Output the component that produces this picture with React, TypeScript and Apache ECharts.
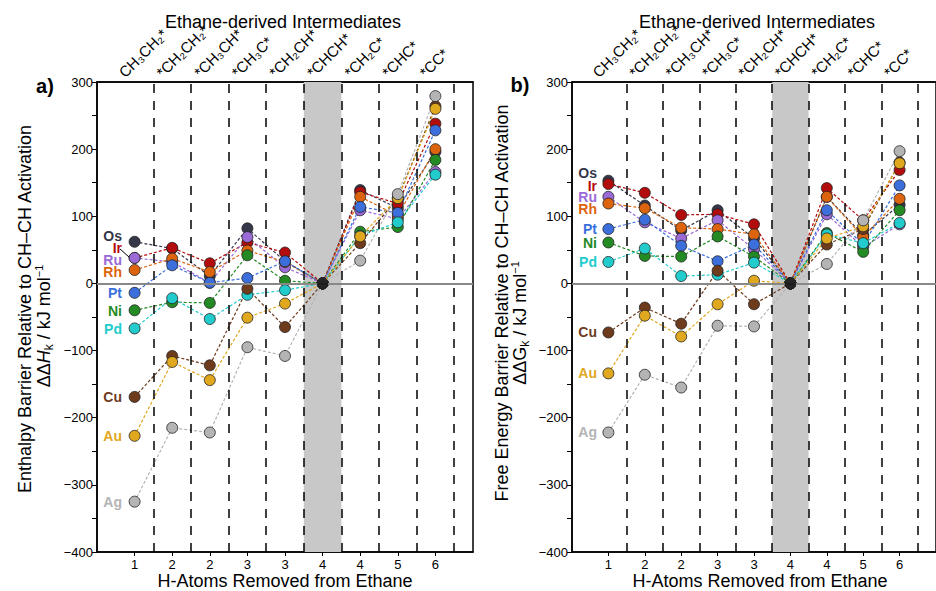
import React, { useEffect, useRef } from 'react';
import * as echarts from 'echarts';

const FONT = '"Liberation Sans", Arial, Helvetica, sans-serif';

// positions along the x axis (value axis 0..10)
const xPositions = [1, 2, 3, 4, 5, 6, 7, 8, 9];
const hAtomLabels = ['1', '2', '2', '3', '3', '4', '4', '5', '6'];
const intermediates = ['CH\u2083CH\u2082*', '*CH\u2082CH\u2082*', '*CH\u2083CH*', '*CH\u2083C*', '*CH\u2082CH*', '*CHCH*', '*CH\u2082C*', '*CHC*', '*CC*'];
const dashedLinePositions = [1.5, 2.5, 3.5, 4.5, 5.5, 6.5, 7.5, 8.5, 9.5];
const bandRange = [5.5, 6.5];

const metals = ['Os', 'Ir', 'Ru', 'Rh', 'Pt', 'Ni', 'Pd', 'Cu', 'Au', 'Ag'];
const metalColors = ['#35374a', '#b30c0c', '#9a6ad6', '#dc640f', '#3c6fdc', '#248a24', '#22cccc', '#6e3b1c', '#e0a81e', '#b4b4b4'];

// a) Enthalpy barriers (kJ/mol)
const dH_Os = [62, 52, 11, 82, 33, 0, 139, 112, 196];
const dH_Ir = [38, 53, 30, 61, 46, 0, 136, 119, 238];
const dH_Ru = [38, 32, 1, 69, 24, 0, 109, 96, 166];
const dH_Rh = [20, 37, 17, 49, 32, 0, 129, 101, 200];
const dH_Pt = [-14, 27, 1, 8, 33, 0, 114, 105, 228];
const dH_Ni = [-40, -28, -29, 42, 4, 0, 77, 84, 184];
const dH_Pd = [-67, -22, -53, -17, -10, 0, 71, 91, 162];
const dH_Cu = [-169, -108, -122, -8, -65, 0, 60, 127, 264];
const dH_Au = [-227, -117, -144, -51, -30, 0, 70, 127, 260];
const dH_Ag = [-325, -215, -222, -95, -108, 0, 34, 133, 279];

// b) Free energy barriers (kJ/mol)
const dG_Os = [153, 116, 79, 109, 67, 0, 129, 72, 117];
const dG_Ir = [148, 135, 102, 103, 88, 0, 142, 94, 169];
const dG_Ru = [129, 91, 67, 94, 51, 0, 103, 54, 88];
const dG_Rh = [119, 112, 83, 81, 73, 0, 129, 69, 126];
const dG_Pt = [81, 95, 56, 33, 58, 0, 109, 58, 146];
const dG_Ni = [61, 41, 40, 70, 40, 0, 75, 47, 109];
const dG_Pd = [32, 52, 11, 13, 31, 0, 73, 60, 90];
const dG_Cu = [-73, -36, -60, 19, -31, 0, 58, 81, 180];
const dG_Au = [-134, -48, -79, -31, 4, 0, 67, 85, 179];
const dG_Ag = [-222, -136, -155, -63, -64, 0, 29, 94, 197];

const enthalpySets = [dH_Os, dH_Ir, dH_Ru, dH_Rh, dH_Pt, dH_Ni, dH_Pd, dH_Cu, dH_Au, dH_Ag];
const gibbsSets = [dG_Os, dG_Ir, dG_Ru, dG_Rh, dG_Pt, dG_Ni, dG_Pd, dG_Cu, dG_Au, dG_Ag];

// metal label vertical positions (pixels) next to the first point
const labelYa = [236, 248, 260, 272, 293, 311, 329, 397, 436, 502];
const labelYb = [173, 186, 197, 209, 229, 243, 262, 332, 373, 432];

const minus = (v: number) => String(v).replace('-', '\u2212');

function buildPanel(gi: number, sets: number[][]) {
  const xb = gi * 2;
  const series: any[] = [];
  series.push({
    type: 'line',
    xAxisIndex: xb,
    yAxisIndex: gi,
    data: [],
    silent: true,
    z: 1,
    markArea: {
      silent: true,
      itemStyle: { color: '#c8c8c8' },
      data: [[{ xAxis: bandRange[0] }, { xAxis: bandRange[1] }]],
    },
    markLine: {
      silent: true,
      symbol: 'none',
      label: { show: false },
      data: [
        ...dashedLinePositions.map((p) => ({ xAxis: p, lineStyle: { color: '#000', width: 1.5, type: [9, 8] } })),
        { yAxis: 0, lineStyle: { color: '#888', width: 2, type: 'solid' } },
      ],
    },
  });
  sets.forEach((vals, i) => {
    series.push({
      type: 'line',
      name: metals[i],
      xAxisIndex: xb,
      yAxisIndex: gi,
      data: vals.map((v, k) => [xPositions[k], v]),
      symbol: 'circle',
      symbolSize: 11,
      z: 3,
      lineStyle: { color: metalColors[i], width: 1.2, type: [3, 2] },
      itemStyle: { color: metalColors[i], borderColor: '#222', borderWidth: 0.8 },
    });
  });
  series.push({
    type: 'scatter',
    xAxisIndex: xb,
    yAxisIndex: gi,
    data: [[xPositions[5], 0]],
    symbolSize: 11,
    z: 5,
    itemStyle: { color: '#000' },
  });
  return series;
}

function xAxes(gi: number) {
  return [
    {
      type: 'value',
      gridIndex: gi,
      position: 'bottom',
      min: 0,
      max: 10,
      interval: 1,
      splitLine: { show: false },
      axisLine: { show: true, onZero: false, lineStyle: { color: '#000', width: 1.5 } },
      axisTick: { show: true, customValues: xPositions, length: 4, lineStyle: { color: '#000' } },
      axisLabel: {
        customValues: xPositions,
        formatter: (v: number) => hAtomLabels[v - 1] ?? '',
        fontFamily: FONT,
        fontSize: 13,
        color: '#000',
        margin: 6,
      },
    },
    {
      type: 'value',
      gridIndex: gi,
      position: 'top',
      min: 0,
      max: 10,
      interval: 1,
      splitLine: { show: false },
      axisLine: { show: true, onZero: false, lineStyle: { color: '#000', width: 1.5 } },
      axisTick: { show: false },
      axisLabel: { show: false },
    },
  ];
}

function yAxis(gi: number) {
  return {
    type: 'value',
    gridIndex: gi,
    min: -400,
    max: 300,
    interval: 100,
    splitLine: { show: false },
    axisLine: { show: true, onZero: false, lineStyle: { color: '#000', width: 1.5 } },
    axisTick: { show: true, length: 5, lineStyle: { color: '#000' } },
    minorTick: { show: true, splitNumber: 2, length: 5, lineStyle: { color: '#000' } },
    axisLabel: { fontFamily: FONT, fontSize: 13, color: '#000', margin: 4, formatter: minus },
  };
}

function txt(x: number, y: number, text: string, opts: any = {}) {
  const style: any = {
    text,
    fontFamily: FONT,
    fontSize: opts.fontSize ?? 16,
    fontWeight: opts.fontWeight ?? 'normal',
    fill: opts.fill ?? '#000',
    align: opts.align ?? 'center',
    verticalAlign: opts.verticalAlign ?? 'middle',
  };
  if (opts.rich) style.rich = opts.rich;
  return { type: 'text', x, y, rotation: opts.rotation ?? 0, z: 100, style };
}

const yRich = {
  n: { fontFamily: FONT, fontSize: 18, fill: '#000', lineHeight: 22 },
  i: { fontFamily: FONT, fontSize: 18, fill: '#000', fontStyle: 'italic' },
  s: { fontFamily: FONT, fontSize: 12, fill: '#000', verticalAlign: 'bottom' },
  p: { fontFamily: FONT, fontSize: 11, fill: '#000', verticalAlign: 'top' },
};

export default function App() {
  const ref = useRef<HTMLDivElement>(null);
  const topRef = useRef<HTMLDivElement>(null);
  useEffect(() => {
    document.body.style.margin = '0';
    if (!ref.current || !topRef.current) return;
    const chart = echarts.init(ref.current, undefined, { renderer: 'svg' });

    const graphic: any[] = [
      txt(283, 22, 'Ethane-derived Intermediates', { fontSize: 18 }),
      txt(757, 22, 'Ethane-derived Intermediates', { fontSize: 18 }),
      txt(45, 86, 'a)', { fontSize: 20, fontWeight: 'bold' }),
      txt(520, 85, 'b)', { fontSize: 20, fontWeight: 'bold' }),
      txt(25, 309, 'Enthalpy Barrier Relative to CH\u2013CH Activation', { fontSize: 18, rotation: Math.PI / 2 }),
      txt(44, 326, '{n|\u0394\u0394}{i|H}{s|k}{n| / kJ mol}{p|\u22121}', { rotation: Math.PI / 2, rich: yRich }),
      txt(502, 303, 'Free Energy Barrier Relative to CH\u2013CH Activation', { fontSize: 18, rotation: Math.PI / 2 }),
      txt(520, 323, '{n|\u0394\u0394G}{s|k}{n| / kJ mol}{p|\u22121}', { rotation: Math.PI / 2, rich: yRich }),
      txt(285, 581, 'H-Atoms Removed from Ethane', { fontSize: 18 }),
      txt(760, 581, 'H-Atoms Removed from Ethane', { fontSize: 18 }),
      {
        type: 'line',
        z: 100,
        shape: { x1: 120, y1: 249, x2: 129, y2: 257 },
        style: { stroke: '#000', lineWidth: 1 },
      },
    ];
    metals.forEach((m, i) => {
      graphic.push(txt(122, labelYa[i], m, { fontSize: 14, fontWeight: 'bold', fill: metalColors[i], align: 'right' }));
      graphic.push(txt(597, labelYb[i], m, { fontSize: 14, fontWeight: 'bold', fill: metalColors[i], align: 'right' }));
    });

    chart.setOption({
      animation: false,
      backgroundColor: '#fff',
      grid: [
        { left: 97, top: 82, width: 376, height: 470, show: true, borderColor: '#000', borderWidth: 1.5 },
        { left: 572, top: 82, width: 376, height: 470, show: true, borderColor: '#000', borderWidth: 1.5 },
      ],
      xAxis: [...xAxes(0), ...xAxes(1)],
      yAxis: [yAxis(0), yAxis(1)],
      series: [...buildPanel(0, enthalpySets), ...buildPanel(1, gibbsSets)],
      graphic,
    });

    // rotated intermediate labels, drawn on a transparent overlay chart
    const top = echarts.init(topRef.current, undefined, { renderer: 'svg' });
    const labels: any[] = [];
    [1, 3].forEach((axisIdx) => {
      intermediates.forEach((lab, k) => {
        const px = chart.convertToPixel({ xAxisIndex: axisIdx }, xPositions[k]) as number;
        labels.push({
          type: 'text',
          x: px - 8,
          y: 80,
          rotation: Math.PI / 4,
          style: { text: lab, fontSize: 15, fontFamily: FONT, fill: '#000', align: 'left', verticalAlign: 'bottom' },
        });
      });
    });
    top.setOption({ animation: false, graphic: labels });

    return () => {
      top.dispose();
      chart.dispose();
    };
  }, []);
  return (
    <div style={{ position: 'relative', width: 936, height: 591 }}>
      <div ref={ref} style={{ position: 'absolute', left: 0, top: 0, width: 936, height: 591 }} />
      <div
        ref={topRef}
        style={{ position: 'absolute', left: 0, top: 0, width: 936, height: 84, pointerEvents: 'none' }}
      />
    </div>
  );
}
